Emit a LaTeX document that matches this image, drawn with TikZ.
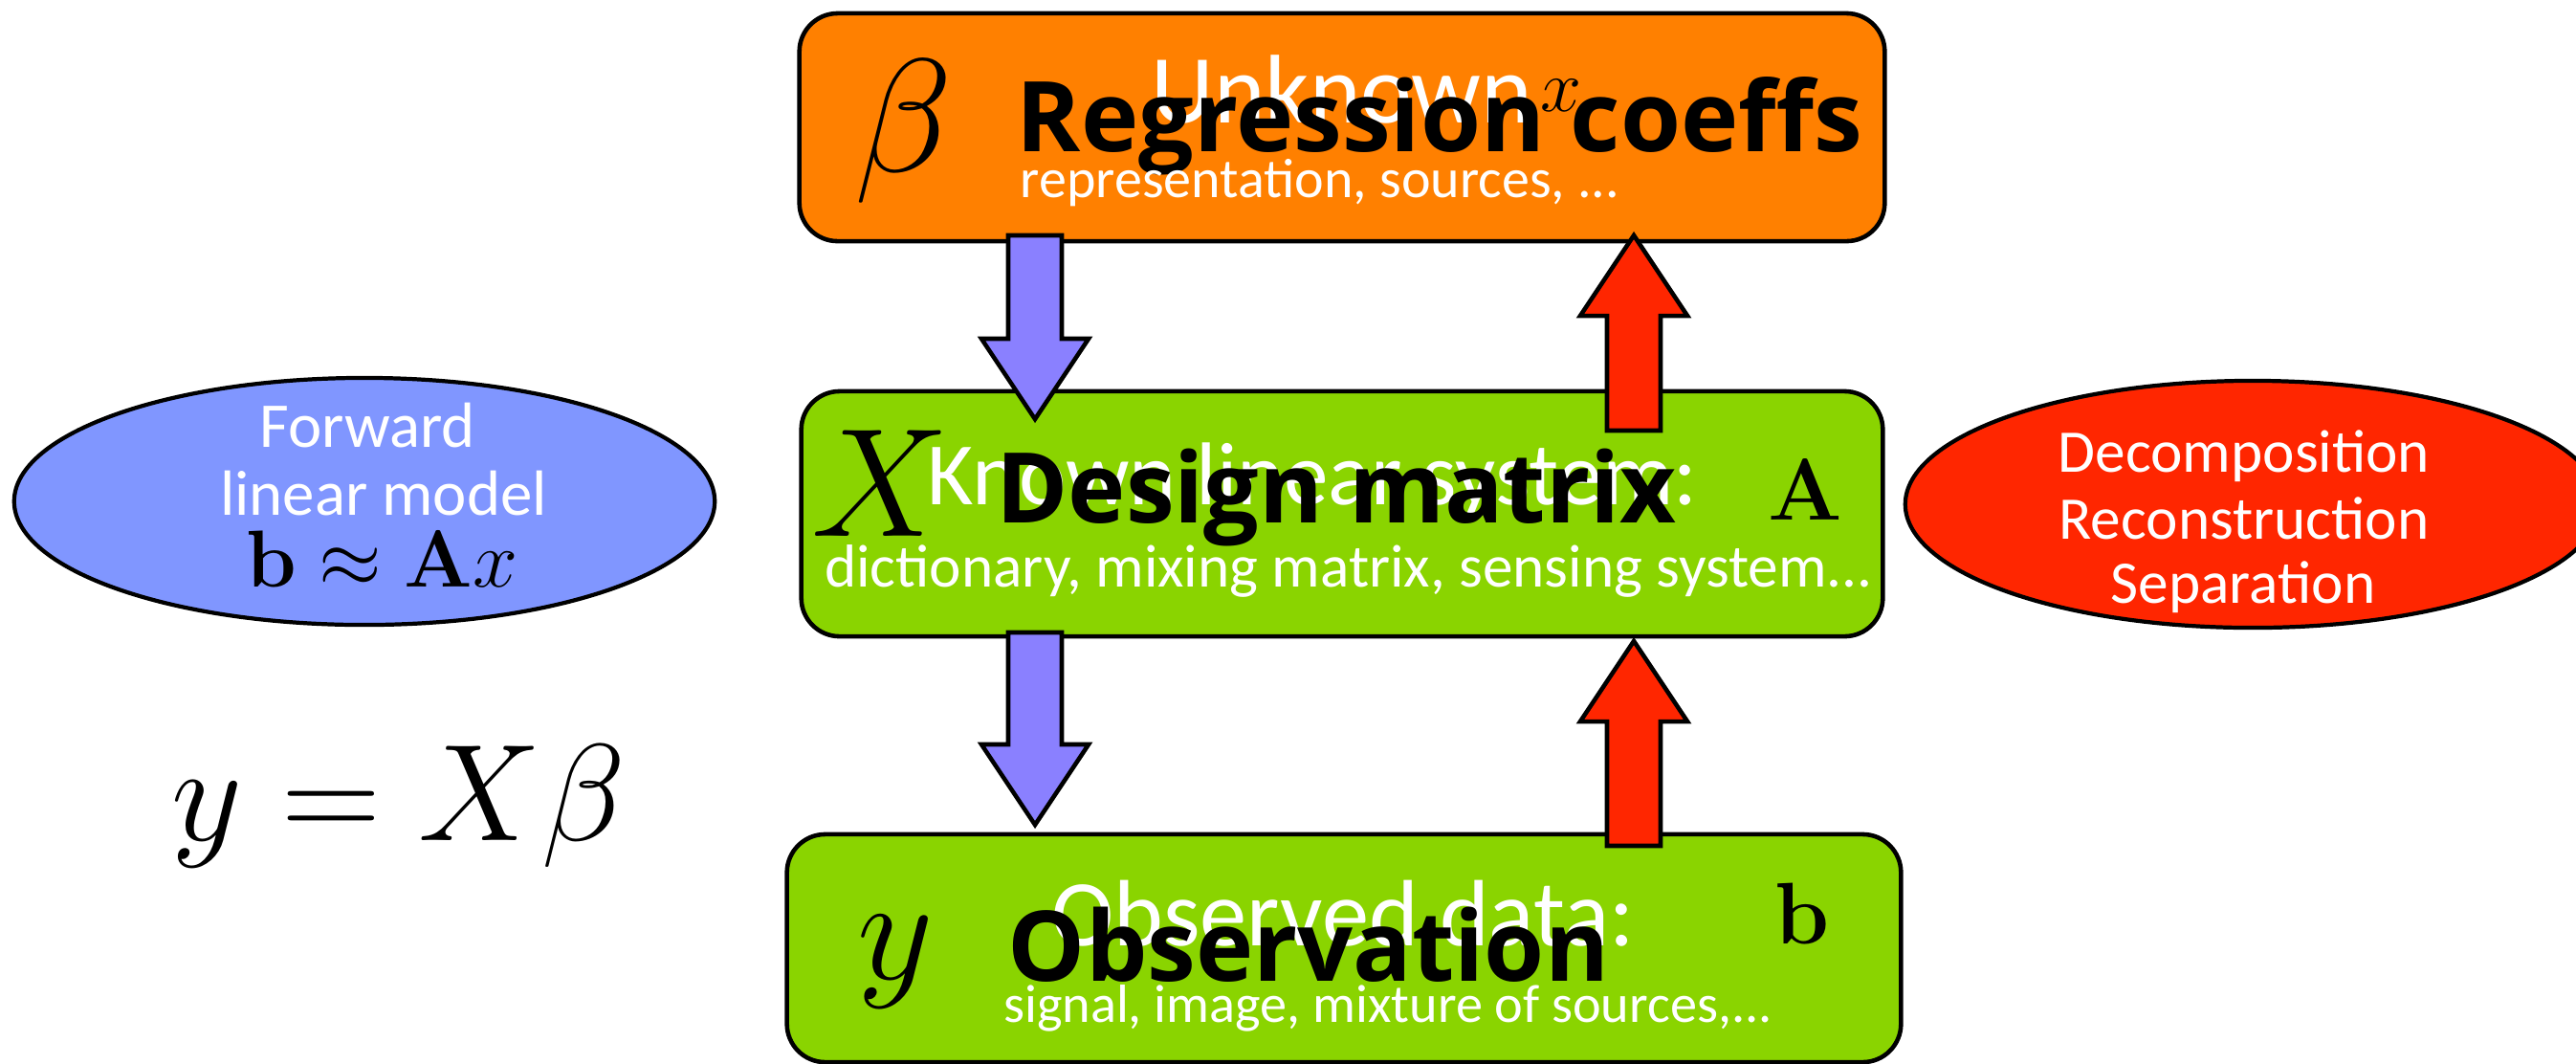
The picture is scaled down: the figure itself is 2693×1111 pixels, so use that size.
\RequirePackage{fix-cm}
\documentclass[tikz,border=0pt]{standalone}
\usepackage[no-math]{fontspec}
\setmainfont{Carlito}
\newfontfamily\heavy{Open Sans}
\usetikzlibrary{shapes.geometric,calc}
\definecolor{coeffOrange}{RGB}{255,128,0}
\definecolor{limeGreen}{RGB}{138,212,0}
\definecolor{fwdBlue}{RGB}{128,150,255}
\definecolor{arrBlue}{RGB}{138,128,255}
\definecolor{invRed}{RGB}{255,38,0}
\newcommand{\sz}[1]{\fontsize{#1}{1.2\dimexpr#1pt\relax}\selectfont}
% fat block arrow from #1 to #2, filled with #3
\newcommand{\fatarrow}[3]{%
  \coordinate (hb) at ($(#2)!0.84cm!(#1)$);
  \draw[fat, fill=#3] ($(#1)!0.28cm!90:(#2)$)
    -- ($(hb)!0.28cm!-90:(#1)$) -- ($(hb)!0.56cm!-90:(#1)$)
    -- (#2)
    -- ($(hb)!0.56cm!90:(#1)$) -- ($(hb)!0.28cm!90:(#1)$)
    -- ($(#1)!0.28cm!-90:(#2)$) -- cycle;
}
\begin{document}
\begin{tikzpicture}[x=0.01cm, y=-0.01cm,
  box/.style={draw, line width=1.3pt, rounded corners=0.4cm, inner sep=0pt},
  blob/.style={draw, ellipse, line width=1.2pt, inner sep=0pt},
  lbl/.style={text=white, anchor=base, inner sep=0pt},
  tag/.style={anchor=base, inner sep=0pt, font=\heavy\bfseries\sz{29}},
  sym/.style={inner sep=0pt, font=\sz{46}}
]
\tikzset{
  fat/.style={draw, line width=1.3pt, line join=miter}
}
\useasboundingbox (0,0) rectangle (2693,1111);

% the three blocks
\node[box, fill=coeffOrange, minimum width=11.34cm, minimum height=2.38cm] (coeffs) at (1403,133) {};
\node[box, fill=limeGreen, minimum width=11.30cm, minimum height=2.56cm] (design) at (1403,537) {};
\node[box, fill=limeGreen, minimum width=11.64cm, minimum height=2.38cm] (obs) at (1405,991) {};

% side ellipses
\node[blob, fill=fwdBlue, minimum width=7.32cm, minimum height=2.58cm] (forward) at (381,524) {};
\node[blob, fill=invRed, minimum width=7.26cm, minimum height=2.58cm] (inverse) at (2355,527) {};

% arrows between blocks
\coordinate (down1a) at (1082,246);
\coordinate (down1b) at (1082,438);
\coordinate (down2a) at (1082,661);
\coordinate (down2b) at (1082,862);
\coordinate (up1a) at (1708,450);
\coordinate (up1b) at (1708,246);
\coordinate (up2a) at (1708,884);
\coordinate (up2b) at (1708,670);
\fatarrow{down1a}{down1b}{arrBlue}
\fatarrow{down2a}{down2b}{arrBlue}
\fatarrow{up1a}{up1b}{invRed}
\fatarrow{up2a}{up2b}{invRed}

% top block
\node[sym, font=\sz{48}] (beta) at (945,137) {$\beta$};
\node[lbl, font=\sz{29}] (unknown) at (1403,128) {Unknown};
\node[inner sep=0pt, font=\sz{22}] (xvar) at (1632,100) {$x$};
\node[tag] (coeffsTag) at (1505,158) {Regression coeffs};
\node[lbl, font=\sz{16.5}] (coeffsSub) at (1380,206) {representation, sources, ...};

% middle block
\node[sym] (X) at (921,505) {$X$};
\node[lbl, font=\sz{26.5}] (known) at (1372,527) {Known linear system:};
\node[inner sep=0pt, font=\sz{26}] (Amat) at (1887,512) {$\mathbf{A}$};
\node[tag] (designTag) at (1397,546) {Design matrix};
\node[lbl, font=\sz{18}] (designSub) at (1410,613) {dictionary, mixing matrix, sensing system...};

% bottom block
\node[sym, font=\sz{44}] (y) at (936,1005) {$y$};
\node[lbl, font=\sz{28}] (observed) at (1404,988) {Observed data:};
\node[inner sep=0pt, font=\sz{26}] (bvec) at (1884,955) {$\mathbf{b}$};
\node[tag] (obsTag) at (1368,1025) {Observation};
\node[lbl, font=\sz{16}] (obsSub) at (1451,1068) {signal, image, mixture of sources,...};

% ellipse texts
\node[lbl, font=\sz{19}] (fwd1) at (384,467) {Forward};
\node[lbl, font=\sz{19}] (fwd2) at (401,538) {linear model};
\node[anchor=base, inner sep=0pt, font=\sz{24}] (fwd3) at (399,613) {$\mathbf{b}\approx\mathbf{A}x$};
\node[lbl, font=\sz{18}] (inv1) at (2346,493) {Decomposition};
\node[lbl, font=\sz{18}] (inv2) at (2346,563) {Reconstruction};
\node[lbl, font=\sz{18}] (inv3) at (2345,630) {Separation};

% model equation
\node[inner sep=0pt, font=\sz{41}] (model) at (417,842) {$y = X\beta$};
\end{tikzpicture}
\end{document}
